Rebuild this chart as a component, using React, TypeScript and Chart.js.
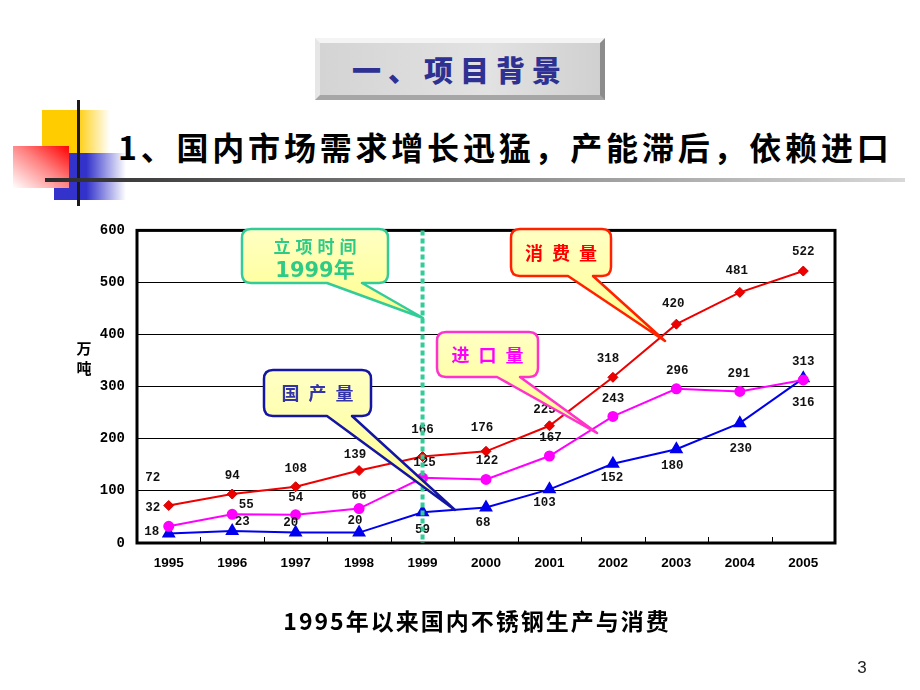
import React, { useEffect, useRef } from 'react';
import { Chart, registerables } from 'chart.js';

Chart.register(...registerables);

// ---------- data ----------
const years = ['1995', '1996', '1997', '1998', '1999', '2000', '2001', '2002', '2003', '2004', '2005'];
const consumption = [72, 94, 108, 139, 166, 176, 225, 318, 420, 481, 522];
const imports = [32, 55, 54, 66, 125, 122, 167, 243, 296, 291, 313];
const domestic = [18, 23, 20, 20, 59, 68, 103, 152, 180, 230, 316];
const projectYear = '1999';
const yMin = 0;
const yMax = 600;
const yStep = 100;

// ---------- label placement (styling, relative to each point) ----------
const consumptionLabelDx = [-16, 0, 0, -4, 0, -4, -5, -5, -3, -3, 0];
const consumptionLabelDy = [-28, -18, -18, -16, -27, -23, -16, -18, -20, -22, -19];
const importsLabelDx = [-16, 14, 0, 0, 2, 1, 1, 0, 1, -1, 0];
const importsLabelDy = [-18, -10, -17, -13, -15, -19, -18, -18, -18, -18, -18];
const domesticLabelDx = [-17, 10, -5, -4, 0, -3, -5, -1, -4, 1, 0];
const domesticLabelDy = [-2, -9, -10, -12, 18, 15, 14, 14, 17, 26, 24];

const CANVAS_LEFT = 60;
const CANVAS_TOP = 210;
const CANVAS_W = 800;
const CANVAS_H = 380;

const CJK = '"Noto Sans CJK SC", "Noto Sans", sans-serif';

type CalloutSpec = {
  x: number; y: number; w: number; h: number;
  ax: number; bx: number; tipX: number; tipY: number;
  border: string; color: string;
};

function calloutPath(c: CalloutSpec) {
  const r = 9;
  const { x, y, w, h } = c;
  return [
    `M ${x + r} ${y}`,
    `L ${x + w - r} ${y}`,
    `Q ${x + w} ${y} ${x + w} ${y + r}`,
    `L ${x + w} ${y + h - r}`,
    `Q ${x + w} ${y + h} ${x + w - r} ${y + h}`,
    `L ${c.bx} ${y + h}`,
    `L ${c.tipX} ${c.tipY}`,
    `L ${c.ax} ${y + h}`,
    `L ${x + r} ${y + h}`,
    `Q ${x} ${y + h} ${x} ${y + h - r}`,
    `L ${x} ${y + r}`,
    `Q ${x} ${y} ${x + r} ${y}`,
    'Z',
  ].join(' ');
}

const calloutProject: CalloutSpec = { x: 242, y: 229, w: 146, h: 54, ax: 327, bx: 362, tipX: 423, tipY: 318, border: '#33cc99', color: '#2ecb86' };
const calloutDomestic: CalloutSpec = { x: 264, y: 370, w: 107, h: 46, ax: 327, bx: 352, tipX: 455, tipY: 510, border: '#1515a5', color: '#3333aa' };
const calloutImports: CalloutSpec = { x: 437, y: 332, w: 101, h: 45, ax: 497, bx: 520, tipX: 597, tipY: 433, border: '#ff33cc', color: '#ff00ff' };
const calloutConsumption: CalloutSpec = { x: 511, y: 229, w: 100, h: 47, ax: 568, bx: 593, tipX: 665, tipY: 341, border: '#ff2200', color: '#ff0000' };

export default function App() {
  const ref = useRef<HTMLCanvasElement>(null);

  useEffect(() => {
    const canvas = ref.current;
    if (!canvas) return;

    const labelSets = [
      { dx: consumptionLabelDx, dy: consumptionLabelDy },
      { dx: importsLabelDx, dy: importsLabelDy },
      { dx: domesticLabelDx, dy: domesticLabelDy },
    ];

    const framePlugin = {
      id: 'frame',
      beforeDatasetsDraw(chart: any) {
        const { ctx, chartArea: a } = chart;
        const xs = chart.scales.x;
        ctx.save();
        ctx.strokeStyle = '#000';
        ctx.lineWidth = 1;
        for (let i = 1; i < years.length; i++) {
          const x = Math.round((xs.getPixelForValue(i - 1) + xs.getPixelForValue(i)) / 2) + 0.5;
          ctx.beginPath();
          ctx.moveTo(x, a.bottom);
          ctx.lineTo(x, a.bottom - 6);
          ctx.stroke();
        }
        ctx.lineWidth = 3;
        ctx.strokeRect(a.left, a.top, a.right - a.left, a.bottom - a.top);
        ctx.restore();
      },
      afterDatasetsDraw(chart: any) {
        const { ctx, chartArea: a } = chart;
        ctx.save();
        ctx.font = 'bold 12.5px "Liberation Mono", "DejaVu Sans Mono", monospace';
        ctx.fillStyle = '#111';
        ctx.textAlign = 'center';
        ctx.textBaseline = 'middle';
        labelSets.forEach((off, di) => {
          const meta = chart.getDatasetMeta(di);
          const data = chart.data.datasets[di].data;
          meta.data.forEach((pt: any, j: number) => {
            ctx.fillText(String(data[j]), pt.x + off.dx[j], pt.y + off.dy[j]);
          });
        });
        // project-year dashed line
        const x = chart.scales.x.getPixelForValue(years.indexOf(projectYear));
        ctx.strokeStyle = '#33cc99';
        ctx.lineWidth = 4;
        ctx.setLineDash([5, 3]);
        ctx.beginPath();
        ctx.moveTo(x, a.top);
        ctx.lineTo(x, a.bottom);
        ctx.stroke();
        ctx.restore();
      },
    };

    const chart = new Chart(canvas, {
      type: 'line',
      data: {
        labels: years,
        datasets: [
          {
            label: '消费量',
            data: consumption,
            borderColor: '#ee0000',
            backgroundColor: '#ee0000',
            borderWidth: 2,
            pointStyle: 'rectRot',
            pointRadius: 5,
            pointBorderWidth: 1,
            pointBorderColor: '#cc0000',
            tension: 0,
          },
          {
            label: '进口量',
            data: imports,
            borderColor: '#ff00ff',
            backgroundColor: '#ff00ff',
            borderWidth: 2,
            pointStyle: 'circle',
            pointRadius: 4.5,
            tension: 0,
          },
          {
            label: '国产量',
            data: domestic,
            borderColor: '#0000ee',
            backgroundColor: '#0000ee',
            borderWidth: 2,
            pointStyle: 'triangle',
            pointRadius: 6,
            tension: 0,
          },
        ],
      },
      options: {
        responsive: false,
        animation: false,
        devicePixelRatio: 1,
        layout: { padding: { left: 0, right: 25, top: 19, bottom: 0 } },
        plugins: {
          legend: { display: false },
          title: { display: false },
          tooltip: { enabled: false },
        },
        scales: {
          x: {
            type: 'category',
            offset: true,
            grid: { display: false, drawTicks: false },
            border: { display: false },
            ticks: {
              color: '#000',
              padding: 12,
              font: { family: '"Liberation Sans Narrow", "Liberation Sans", Arial, sans-serif', size: 13.5, weight: 'bold' },
            },
            afterFit: (scale: any) => { scale.height = 47; },
          },
          y: {
            min: yMin,
            max: yMax,
            grid: { color: '#000', lineWidth: 1, drawTicks: false },
            border: { display: false },
            ticks: {
              stepSize: yStep,
              color: '#000',
              padding: 12,
              font: { family: '"Liberation Mono", "DejaVu Sans Mono", monospace', size: 14, weight: 'bold' },
            },
            afterFit: (scale: any) => { scale.width = 77; },
          },
        },
      },
      plugins: [framePlugin],
    } as any);

    return () => chart.destroy();
  }, []);

  const callouts: { spec: CalloutSpec; lines: { text: string; y: number; size: number; spacing: number; family: string }[] }[] = [
    {
      spec: calloutProject,
      lines: [
        { text: '立项时间', y: 253, size: 17, spacing: 5, family: CJK },
        { text: '1999年', y: 277, size: 21, spacing: 0, family: '"DejaVu Sans", ' + CJK },
      ],
    },
    { spec: calloutDomestic, lines: [{ text: '国产量', y: 400, size: 18, spacing: 9, family: CJK }] },
    { spec: calloutImports, lines: [{ text: '进口量', y: 362, size: 18, spacing: 9, family: CJK }] },
    { spec: calloutConsumption, lines: [{ text: '消费量', y: 260, size: 18, spacing: 9, family: CJK }] },
  ];

  return (
    <div
      style={{
        position: 'absolute', left: 0, top: 0, width: 920, height: 690,
        background: '#fff', overflow: 'hidden', fontFamily: CJK,
      }}
    >
      {/* decoration */}
      <div style={{ position: 'absolute', left: 42, top: 110, width: 68, height: 43, background: 'linear-gradient(to right, #ffcc00 0%, #ffcc00 50%, rgba(255,204,0,0) 100%)' }} />
      <div style={{ position: 'absolute', left: 54, top: 153, width: 72, height: 47, background: 'linear-gradient(to right, #3333cc 0%, #3333cc 45%, rgba(51,51,204,0) 100%)' }} />
      <div style={{ position: 'absolute', left: 13, top: 146, width: 56, height: 42, background: 'linear-gradient(to bottom left, #ff0000 0%, #ff8080 45%, rgba(255,255,255,0.9) 100%)' }} />
      <div style={{ position: 'absolute', left: 77, top: 100, width: 3, height: 106, background: '#1a1a1a' }} />
      <div style={{ position: 'absolute', left: 45, top: 178, width: 860, height: 4, background: 'linear-gradient(to right, #2a2a2a 0%, #777 40%, #d8d8d8 100%)' }} />

      {/* slide title box */}
      <div
        style={{
          position: 'absolute', left: 315, top: 38, width: 280, height: 52,
          borderTop: '5px solid #f4f4f4', borderLeft: '5px solid #e6e6e6',
          borderRight: '5px solid #8c8c8c', borderBottom: '5px solid #a6a6a6',
          background: 'linear-gradient(to right, #d4d4d4, #e2e2e2 60%, #d0d0d0)',
          display: 'flex', alignItems: 'center', justifyContent: 'center',
          color: '#2e3192', fontSize: 29, fontWeight: 900, letterSpacing: 7,
        }}
      >
        一、项目背景
      </div>

      {/* heading */}
      <div
        style={{
          position: 'absolute', left: 118, top: 130, whiteSpace: 'nowrap',
          fontSize: 32, lineHeight: '32px', fontWeight: 700, letterSpacing: 3.8, color: '#000',
        }}
      >
        1、国内市场需求增长迅猛，产能滞后，依赖进口
      </div>

      {/* chart */}
      <canvas
        ref={ref}
        width={CANVAS_W}
        height={CANVAS_H}
        style={{ position: 'absolute', left: CANVAS_LEFT, top: CANVAS_TOP, width: CANVAS_W, height: CANVAS_H, display: 'block' }}
      />

      {/* y-axis unit */}
      <div
        style={{
          position: 'absolute', left: 75, top: 338, width: 18, textAlign: 'center',
          fontSize: 15, lineHeight: '20px', fontWeight: 700, color: '#000',
        }}
      >
        万<br />吨
      </div>

      {/* callouts */}
      <svg width={920} height={690} style={{ position: 'absolute', left: 0, top: 0, pointerEvents: 'none' }}>
        <defs>
          <linearGradient id="calloutFill" x1="0" y1="0" x2="0" y2="1">
            <stop offset="0%" stopColor="#ffffc4" />
            <stop offset="100%" stopColor="#ffff8c" />
          </linearGradient>
        </defs>
        {callouts.map((c, i) => (
          <g key={i}>
            <path d={calloutPath(c.spec)} fill="url(#calloutFill)" stroke={c.spec.border} strokeWidth={2.5} strokeLinejoin="round" />
            {c.lines.map((l, k) => (
              <text
                key={k}
                x={c.spec.x + c.spec.w / 2 + l.spacing / 2}
                y={l.y}
                textAnchor="middle"
                fill={c.spec.color}
                fontSize={l.size}
                fontWeight={700}
                letterSpacing={l.spacing}
                style={{ fontFamily: l.family }}
              >
                {l.text}
              </text>
            ))}
          </g>
        ))}
      </svg>

      {/* caption */}
      <div
        style={{
          position: 'absolute', left: 0, width: 954, top: 607, textAlign: 'center',
          fontSize: 23, lineHeight: '26px', fontWeight: 700, letterSpacing: 2, color: '#000',
        }}
      >
        1995年以来国内不锈钢生产与消费
      </div>

      {/* page number */}
      <div style={{ position: 'absolute', left: 852, top: 657, width: 20, textAlign: 'center', fontSize: 17, lineHeight: '22px', color: '#222', fontFamily: '"Liberation Sans", Arial, sans-serif' }}>
        3
      </div>
    </div>
  );
}
